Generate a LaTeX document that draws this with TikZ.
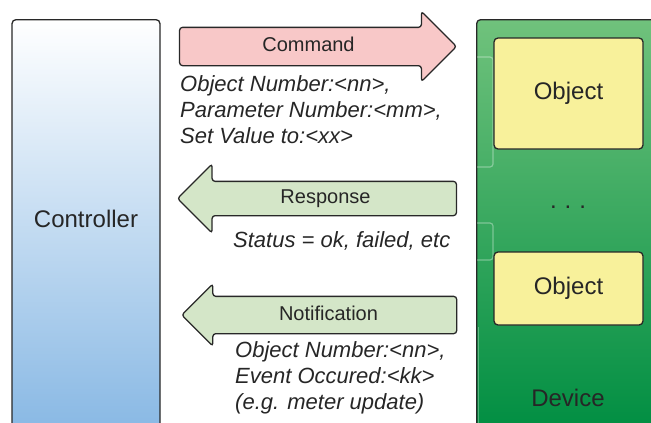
\documentclass[tikz,border=0pt]{standalone}
\usepackage{fontspec}
\setmainfont{Liberation Sans}
\usetikzlibrary{positioning, shapes.arrows}

\definecolor{ctrlblue}{RGB}{136,184,228}
\definecolor{devtop}{RGB}{112,194,124}
\definecolor{devbot}{RGB}{0,142,66}
\definecolor{objyellow}{RGB}{248,241,155}
\definecolor{cmdred}{RGB}{248,200,200}
\definecolor{msggreen}{RGB}{212,230,200}
\definecolor{edge}{RGB}{40,40,40}

\begin{document}
\begin{tikzpicture}[
                x=1pt, y=-1pt,
                every node/.style={text=black!85},
                block/.style={draw=edge, line width=1.3pt, rounded corners=4pt, inner sep=0pt},
                obj/.style={block, fill=objyellow, minimum width=149pt, font=\fontsize{24}{28}\selectfont},
                big/.style={inner sep=0pt, font=\fontsize{24}{28}\selectfont},
                msg/.style={single arrow, draw=edge, line width=1.3pt, rounded corners=3pt,
                    inner xsep=0pt, inner ysep=9.5pt, text height=14pt, text depth=4pt,
                    minimum width=0pt, single arrow head extend=16pt, minimum height=277pt,
                    font=\fontsize{20}{24}\selectfont},
                note/.style={inner sep=0pt, anchor=base west, font=\fontsize{22}{26}\selectfont\itshape},
            ]
                \path[use as bounding box, clip] (0,0) rectangle (651,423);

                % Draw the controller and the device
                \node[block, top color=white, bottom color=ctrlblue, minimum width=148pt,
                    minimum height=412pt, anchor=north] (ctrl) at (86,19) {};
                \node[big] (ctrl-txt) at (86,219) {Controller};
                \node[block, top color=devtop, bottom color=devbot, minimum width=190pt,
                    minimum height=412pt, anchor=north west] (dev) at (476,19) {};
                \node[big] (dev-txt) at (568,398) {Device};

                % faint outlines inside the device
                \draw[white, opacity=0.35, line width=1.2pt, rounded corners=3pt]
                    (477,57) -- (493,57) -- (493,167) -- (477,167);
                \draw[white, opacity=0.35, line width=1.2pt, rounded corners=3pt]
                    (477,223) -- (493,223) -- (493,260) -- (477,260);
                \draw[white, opacity=0.3, line width=1pt] (478,327) -- (478,430);

                % Draw the objects
                \node[obj, minimum height=111pt] (obj-1) at (568.5,93.5) {Object};
                \node[big, anchor=base] (dots) at (568,208) {.\,\,.\,\,.};
                \node[obj, minimum height=73pt] (obj-2) at (568.5,288.5) {Object};

                % Draw the messages
                \node[msg, fill=cmdred] (cmd) at (308.5,46.5) {Command};
                \node[msg, fill=msggreen, shape border rotate=180, inner ysep=7.5pt,
                    single arrow head extend=17.5pt, minimum height=279pt] (resp) at (325.5,198.5) {Response};
                \node[msg, fill=msggreen, shape border rotate=180, inner ysep=9pt,
                    single arrow head extend=12.5pt, minimum height=275pt] (notif) at (328.5,315) {Notification};

                % message contents
                \foreach \i/\y/\txt in {1/91/{Object Number:<nn>,}, 2/117/{Parameter Number:<mm>,}, 3/143/{Set Value to:<xx>}}
                    \node[note] (cmd-\i) at (180,\y) {\txt};
                \node[note] (resp-1) at (233,247) {Status = ok, failed, etc};
                \foreach \i/\y/\txt in {1/357/{Object Number:<nn>,}, 2/383/{Event Occured:<kk>}, 3/409/{(e.g. meter update)}}
                    \node[note] (notif-\i) at (235,\y) {\txt};
            \end{tikzpicture}
\end{document}
